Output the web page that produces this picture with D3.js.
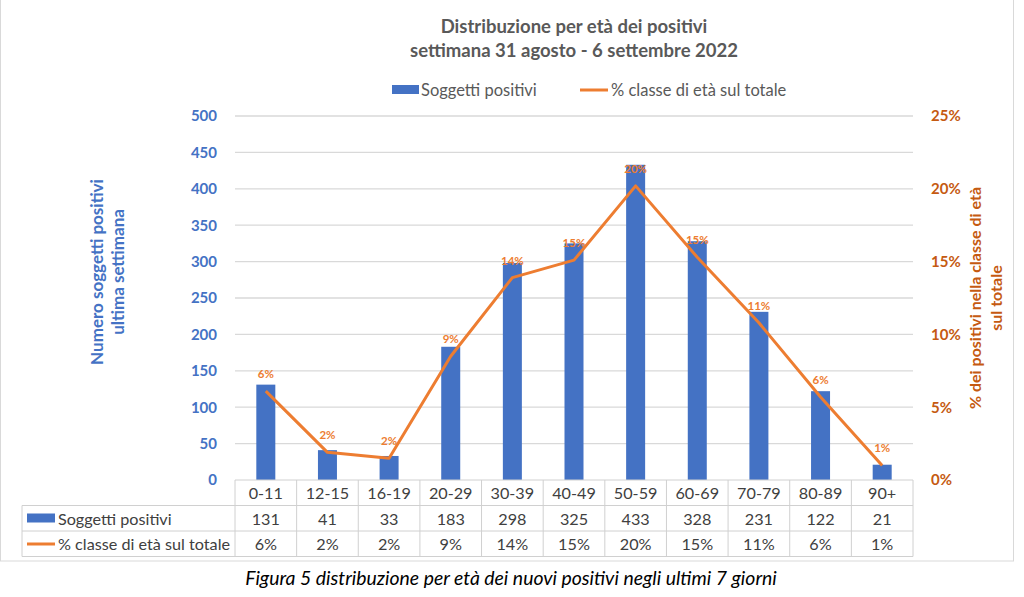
<!DOCTYPE html>
<html><head><meta charset="utf-8">
<script src="https://cdn.jsdelivr.net/npm/d3@7"></script>
<style>body{margin:0;background:#fff;} svg{display:block;font-family:Lato,"Open Sans",sans-serif;}</style>
</head><body>
<svg id="c" width="1024" height="597"></svg>
<script>
const categories = ["0-11","12-15","16-19","20-29","30-39","40-49","50-59","60-69","70-79","80-89","90+"];
const positivi = [131,41,33,183,298,325,433,328,231,122,21];
const percentuale = [6.1,1.9,1.5,8.5,13.9,15.1,20.2,15.3,10.8,5.7,1.0];
const percentLabels = ["6%","2%","2%","9%","14%","15%","20%","15%","11%","6%","1%"];
const leftTicks = [0,50,100,150,200,250,300,350,400,450,500];
const rightTicks = [0,5,10,15,20,25];
const titleLines = ["Distribuzione per età dei positivi","settimana 31 agosto - 6 settembre 2022"];
const seriesNames = ["Soggetti positivi","% classe di età sul totale"];

const blue = "#4472C4", orange = "#ED7D31", orangeDark = "#C55A11", gray = "#595959", grid = "#D9D9D9";
const svg = d3.select("#c");
const L = 235, R = 913, T = 116, B = 480;
const x = d3.scaleBand().domain(categories).range([L, R]);
const y = d3.scaleLinear().domain([0,500]).range([B, T]);
const y2 = d3.scaleLinear().domain([0,25]).range([B, T]);

// frame
svg.append("rect").attr("x",0.5).attr("y",-2).attr("width",1013).attr("height",563).attr("fill","none").attr("stroke","#D9D9D9");

// title
svg.append("g").selectAll("text").data(titleLines).join("text")
  .attr("x",574).attr("y",(d,i)=>33+i*24).attr("text-anchor","middle")
  .attr("font-size",18.5).attr("font-weight","bold").attr("fill",gray).text(d=>d);

// legend
const lg = svg.append("g").attr("font-size",16.5).attr("fill",gray);
lg.append("rect").attr("x",392).attr("y",85).attr("width",27).attr("height",9).attr("fill",blue);
lg.append("text").attr("x",421).attr("y",96).text(seriesNames[0]);
lg.append("line").attr("x1",580).attr("x2",608).attr("y1",90).attr("y2",90).attr("stroke",orange).attr("stroke-width",3);
lg.append("text").attr("x",611).attr("y",96).text(seriesNames[1]);

// gridlines
svg.append("g").selectAll("line").data(leftTicks.slice(1)).join("line")
  .attr("x1",L).attr("x2",R).attr("y1",d=>y(d)).attr("y2",d=>y(d))
  .attr("stroke",grid).attr("stroke-width",1.3);

// left axis
const ga = svg.append("g").attr("transform",`translate(${L},0)`)
  .call(d3.axisLeft(y).tickValues(leftTicks).tickSize(0).tickPadding(18));
ga.select(".domain").remove();
ga.selectAll("text").attr("font-family","Lato,sans-serif").attr("font-size",15).attr("font-weight","bold").attr("fill",blue);

// right axis
const gb = svg.append("g").attr("transform",`translate(${R},0)`)
  .call(d3.axisRight(y2).tickValues(rightTicks).tickSize(0).tickPadding(18).tickFormat(d=>d+"%"));
gb.select(".domain").remove();
gb.selectAll("text").attr("font-family","Lato,sans-serif").attr("font-size",15).attr("font-weight","bold").attr("fill",orangeDark);

// axis titles
const lt = svg.append("text").attr("transform","translate(103,272) rotate(-90)").attr("text-anchor","middle")
  .attr("font-size",17).attr("font-weight","bold").attr("fill",blue);
lt.append("tspan").attr("x",0).attr("dy",0).text("Numero soggetti positivi");
lt.append("tspan").attr("x",0).attr("dy",21).text("ultima settimana");
const rt = svg.append("text").attr("transform","translate(981,298) rotate(-90)").attr("text-anchor","middle")
  .attr("font-size",16).attr("font-weight","bold").attr("fill",orangeDark);
rt.append("tspan").attr("x",0).attr("dy",0).text("% dei positivi nella classe di età");
rt.append("tspan").attr("x",0).attr("dy",21).text("sul totale");

// bars
const bw = 19;
svg.append("g").selectAll("rect").data(categories).join("rect")
  .attr("x",d=>x(d)+x.bandwidth()/2-bw/2).attr("width",bw)
  .attr("y",(d,i)=>y(positivi[i])).attr("height",(d,i)=>y(0)-y(positivi[i]))
  .attr("fill",blue);

// line
const line = d3.line().x((d,i)=>x(categories[i])+x.bandwidth()/2).y(d=>y2(d));
svg.append("path").datum(percentuale).attr("d",line).attr("fill","none")
  .attr("stroke",orange).attr("stroke-width",3).attr("stroke-linejoin","round");

// data labels
svg.append("g").selectAll("text").data(percentLabels).join("text")
  .attr("x",(d,i)=>x(categories[i])+x.bandwidth()/2).attr("y",(d,i)=>y2(percentuale[i])-13)
  .attr("text-anchor","middle").attr("font-size",11.5).attr("font-weight","bold").attr("fill",orange).text(d=>d);

// data table
const rowH = 25.5, tb = svg.append("g");
const rows = [B, B+rowH, B+2*rowH, B+3*rowH];
const tgrid = "#D0D0D0";
tb.append("line").attr("x1",L).attr("x2",R).attr("y1",rows[0]).attr("y2",rows[0]).attr("stroke",tgrid);
[1,2,3].forEach(k=>tb.append("line").attr("x1",22).attr("x2",R).attr("y1",rows[k]).attr("y2",rows[k]).attr("stroke",tgrid));
tb.selectAll("line.v").data(categories.concat(["end"])).join("line").attr("class","v")
  .attr("x1",(d,i)=>L+i*x.bandwidth()).attr("x2",(d,i)=>L+i*x.bandwidth())
  .attr("y1",rows[0]).attr("y2",rows[3]).attr("stroke",tgrid);
tb.append("line").attr("x1",22).attr("x2",22).attr("y1",rows[1]).attr("y2",rows[3]).attr("stroke",tgrid);

const tf = 16.2;
tb.selectAll("text.cat").data(categories).join("text").attr("class","cat")
  .attr("x",d=>x(d)+x.bandwidth()/2).attr("y",rows[0]+19).attr("text-anchor","middle")
  .attr("font-size",tf).attr("fill","#404040").text(d=>d);
tb.selectAll("text.v1").data(positivi).join("text").attr("class","v1")
  .attr("x",(d,i)=>x(categories[i])+x.bandwidth()/2).attr("y",rows[1]+19).attr("text-anchor","middle")
  .attr("font-size",tf).attr("fill","#404040").text(d=>d);
tb.selectAll("text.v2").data(percentLabels).join("text").attr("class","v2")
  .attr("x",(d,i)=>x(categories[i])+x.bandwidth()/2).attr("y",rows[2]+19).attr("text-anchor","middle")
  .attr("font-size",tf).attr("fill","#404040").text(d=>d);
tb.append("rect").attr("x",27).attr("y",rows[1]+8).attr("width",28).attr("height",9).attr("fill",blue);
tb.append("text").attr("x",58).attr("y",rows[1]+19).attr("font-size",tf).attr("fill","#404040").text(seriesNames[0]);
tb.append("line").attr("x1",27).attr("x2",55).attr("y1",rows[2]+13).attr("y2",rows[2]+13).attr("stroke",orange).attr("stroke-width",3);
tb.append("text").attr("x",58).attr("y",rows[2]+19).attr("font-size",tf).attr("fill","#404040").text(seriesNames[1]);

// caption
svg.append("text").attr("x",511).attr("y",585).attr("text-anchor","middle")
  .attr("font-size",19.4).attr("font-style","italic").attr("fill","#000")
  .text("Figura 5 distribuzione per età dei nuovi positivi negli ultimi 7 giorni");
</script>
</body></html>
